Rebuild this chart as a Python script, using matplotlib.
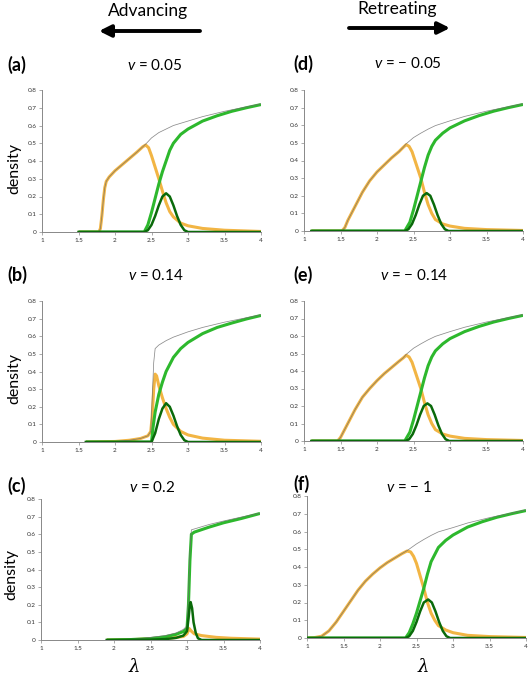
import matplotlib
matplotlib.use("Agg")
import matplotlib.pyplot as plt

plt.rcParams['font.family'] = ['Lato', 'DejaVu Sans']
plt.rcParams['mathtext.fontset'] = 'custom'
plt.rcParams['mathtext.it'] = 'Lato:italic'
plt.rcParams['mathtext.rm'] = 'Lato'

# ---------------- data ----------------
PANEL_LABELS = ['(a)', '(b)', '(c)', '(d)', '(e)', '(f)']
PANEL_V = ['0.05', '0.14', '0.2', '\u2212 0.05', '\u2212 0.14', '\u2212 1']
X_TICKS = [1, 1.5, 2, 2.5, 3, 3.5, 4]
X_TICK_LABELS = ['1', '1.5', '2', '2.5', '3', '3.5', '4']
Y_TICKS = [0, 0.1, 0.2, 0.3, 0.4, 0.5, 0.6, 0.7, 0.8]
Y_TICK_LABELS = ['0', '0.1', '0.2', '0.3', '0.4', '0.5', '0.6', '0.7', '0.8']

# (a) v = 0.05
A_OR_X = [1.5, 1.78, 1.80, 1.82, 1.84, 1.86, 1.88, 1.92, 2.0, 2.1, 2.2, 2.3, 2.38, 2.42, 2.46, 2.5, 2.55, 2.6, 2.65, 2.7, 2.75, 2.8, 2.9, 3.0, 3.2, 3.5, 4.0]
A_OR_Y = [0, 0, 0.02, 0.09, 0.18, 0.25, 0.285, 0.31, 0.345, 0.38, 0.415, 0.45, 0.48, 0.49, 0.475, 0.43, 0.365, 0.3, 0.23, 0.165, 0.115, 0.085, 0.05, 0.035, 0.02, 0.01, 0.003]
A_TOT_X = [1.5, 1.78, 1.80, 1.82, 1.84, 1.86, 1.88, 1.92, 2.0, 2.1, 2.2, 2.3, 2.38, 2.42, 2.5, 2.6, 2.7, 2.8, 3.0, 3.2, 3.5, 3.8, 4.0]
A_TOT_Y = [0, 0, 0.02, 0.09, 0.18, 0.25, 0.285, 0.31, 0.345, 0.38, 0.415, 0.45, 0.48, 0.495, 0.53, 0.56, 0.58, 0.6, 0.625, 0.65, 0.68, 0.705, 0.722]
A_GR_X = [1.5, 2.4, 2.45, 2.5, 2.55, 2.6, 2.65, 2.7, 2.75, 2.8, 2.9, 3.0, 3.2, 3.4, 3.6, 3.8, 4.0]
A_GR_Y = [0, 0, 0.04, 0.11, 0.19, 0.27, 0.34, 0.40, 0.46, 0.5, 0.55, 0.58, 0.625, 0.655, 0.68, 0.70, 0.718]
A_DG_X = [1.5, 2.4, 2.45, 2.5, 2.55, 2.6, 2.65, 2.7, 2.75, 2.8, 2.85, 2.9, 2.95, 3.0, 4.0]
A_DG_Y = [0, 0, 0.01, 0.04, 0.09, 0.15, 0.2, 0.218, 0.2, 0.15, 0.09, 0.04, 0.01, 0, 0]

# (b) v = 0.14
B_OR_X = [1.6, 2.0, 2.2, 2.35, 2.45, 2.49, 2.51, 2.53, 2.55, 2.57, 2.6, 2.65, 2.7, 2.75, 2.8, 2.9, 3.0, 3.2, 3.5, 4.0]
B_OR_Y = [0, 0.003, 0.01, 0.02, 0.035, 0.06, 0.15, 0.3, 0.385, 0.375, 0.32, 0.25, 0.19, 0.14, 0.1, 0.06, 0.04, 0.022, 0.01, 0.004]
B_TOT_X = [1.6, 2.0, 2.2, 2.35, 2.45, 2.49, 2.51, 2.53, 2.55, 2.6, 2.7, 2.8, 3.0, 3.2, 3.5, 3.8, 4.0]
B_TOT_Y = [0, 0.003, 0.01, 0.02, 0.035, 0.06, 0.25, 0.45, 0.53, 0.55, 0.575, 0.595, 0.625, 0.65, 0.68, 0.705, 0.722]
B_GR_X = [1.6, 2.5, 2.52, 2.55, 2.6, 2.65, 2.7, 2.8, 2.9, 3.0, 3.2, 3.4, 3.6, 3.8, 4.0]
B_GR_Y = [0, 0, 0.08, 0.17, 0.27, 0.34, 0.4, 0.48, 0.53, 0.565, 0.615, 0.65, 0.675, 0.698, 0.718]
B_DG_X = [1.6, 2.5, 2.55, 2.6, 2.65, 2.7, 2.75, 2.8, 2.85, 2.9, 2.95, 3.0, 4.0]
B_DG_Y = [0, 0, 0.05, 0.13, 0.19, 0.22, 0.2, 0.15, 0.09, 0.04, 0.01, 0, 0]

# (c) v = 0.2
C_OR_X = [1.9, 2.3, 2.5, 2.8, 2.95, 3.0, 3.03, 3.06, 3.1, 3.2, 3.4, 3.6, 4.0]
C_OR_Y = [0, 0.003, 0.008, 0.012, 0.02, 0.035, 0.065, 0.05, 0.035, 0.025, 0.015, 0.01, 0.005]
C_TOT_X = [1.9, 2.3, 2.5, 2.7, 2.85, 2.95, 3.0, 3.02, 3.04, 3.06, 3.1, 3.3, 3.5, 3.75, 4.0]
C_TOT_Y = [0, 0.005, 0.015, 0.025, 0.04, 0.06, 0.08, 0.25, 0.5, 0.625, 0.63, 0.655, 0.675, 0.698, 0.72]
C_GR_X = [1.9, 2.2, 2.5, 2.7, 2.85, 2.95, 3.0, 3.02, 3.04, 3.06, 3.1, 3.3, 3.5, 3.75, 4.0]
C_GR_Y = [0, 0.002, 0.008, 0.018, 0.032, 0.048, 0.065, 0.2, 0.45, 0.6, 0.612, 0.64, 0.665, 0.69, 0.718]
C_DG_X = [1.9, 2.5, 2.7, 2.85, 2.95, 3.0, 3.02, 3.04, 3.05, 3.07, 3.09, 3.12, 3.15, 3.2, 4.0]
C_DG_Y = [0, 0.002, 0.005, 0.012, 0.025, 0.05, 0.12, 0.2, 0.215, 0.18, 0.1, 0.04, 0.01, 0, 0]

# (d) v = -0.05
D_OR_X = [1.1, 1.52, 1.56, 1.6, 1.7, 1.8, 1.9, 2.0, 2.1, 2.2, 2.3, 2.36, 2.4, 2.44, 2.48, 2.52, 2.56, 2.6, 2.65, 2.7, 2.75, 2.8, 2.9, 3.0, 3.2, 3.5, 4.0]
D_OR_Y = [0, 0, 0.02, 0.06, 0.14, 0.22, 0.285, 0.335, 0.375, 0.415, 0.45, 0.475, 0.49, 0.48, 0.45, 0.4, 0.35, 0.3, 0.22, 0.15, 0.1, 0.065, 0.04, 0.028, 0.015, 0.008, 0.003]
D_TOT_X = [1.1, 1.52, 1.56, 1.6, 1.7, 1.8, 1.9, 2.0, 2.1, 2.2, 2.3, 2.36, 2.4, 2.5, 2.6, 2.7, 2.8, 3.0, 3.2, 3.5, 3.8, 4.0]
D_TOT_Y = [0, 0, 0.02, 0.06, 0.14, 0.22, 0.285, 0.335, 0.375, 0.415, 0.45, 0.475, 0.495, 0.53, 0.555, 0.578, 0.598, 0.625, 0.65, 0.68, 0.705, 0.722]
D_GR_X = [1.1, 2.38, 2.45, 2.5, 2.55, 2.6, 2.65, 2.7, 2.75, 2.8, 2.9, 3.0, 3.2, 3.4, 3.6, 3.8, 4.0]
D_GR_Y = [0, 0, 0.05, 0.12, 0.2, 0.28, 0.36, 0.43, 0.48, 0.515, 0.555, 0.585, 0.625, 0.655, 0.68, 0.7, 0.718]
D_DG_X = [1.1, 2.38, 2.43, 2.48, 2.53, 2.58, 2.63, 2.68, 2.73, 2.78, 2.83, 2.88, 2.93, 2.98, 4.0]
D_DG_Y = [0, 0, 0.01, 0.04, 0.09, 0.15, 0.2, 0.215, 0.2, 0.15, 0.09, 0.04, 0.01, 0, 0]

# (e) v = -0.14
E_OR_X = [1.1, 1.46, 1.5, 1.55, 1.6, 1.7, 1.8, 1.9, 2.0, 2.1, 2.2, 2.3, 2.36, 2.4, 2.44, 2.48, 2.52, 2.56, 2.6, 2.65, 2.7, 2.75, 2.8, 2.9, 3.0, 3.2, 3.5, 4.0]
E_OR_Y = [0, 0, 0.02, 0.06, 0.1, 0.18, 0.25, 0.3, 0.345, 0.385, 0.42, 0.455, 0.475, 0.49, 0.48, 0.45, 0.4, 0.35, 0.3, 0.22, 0.15, 0.1, 0.065, 0.04, 0.028, 0.015, 0.008, 0.003]
E_TOT_X = [1.1, 1.46, 1.5, 1.55, 1.6, 1.7, 1.8, 1.9, 2.0, 2.1, 2.2, 2.3, 2.36, 2.4, 2.5, 2.6, 2.7, 2.8, 3.0, 3.2, 3.5, 3.8, 4.0]
E_TOT_Y = [0, 0, 0.02, 0.06, 0.1, 0.18, 0.25, 0.3, 0.345, 0.385, 0.42, 0.455, 0.475, 0.495, 0.53, 0.555, 0.578, 0.598, 0.625, 0.65, 0.68, 0.705, 0.722]
E_GR_X = [1.1, 2.38, 2.45, 2.5, 2.55, 2.6, 2.65, 2.7, 2.75, 2.8, 2.9, 3.0, 3.2, 3.4, 3.6, 3.8, 4.0]
E_GR_Y = [0, 0, 0.05, 0.12, 0.2, 0.28, 0.36, 0.43, 0.48, 0.515, 0.555, 0.585, 0.625, 0.655, 0.68, 0.7, 0.718]
E_DG_X = [1.1, 2.39, 2.44, 2.49, 2.54, 2.59, 2.64, 2.69, 2.74, 2.79, 2.84, 2.89, 2.94, 2.99, 4.0]
E_DG_Y = [0, 0, 0.01, 0.04, 0.09, 0.15, 0.2, 0.215, 0.2, 0.15, 0.09, 0.04, 0.01, 0, 0]

# (f) v = -1
F_OR_X = [1.0, 1.1, 1.2, 1.3, 1.4, 1.5, 1.6, 1.7, 1.8, 1.9, 2.0, 2.1, 2.2, 2.3, 2.37, 2.42, 2.46, 2.5, 2.55, 2.6, 2.65, 2.7, 2.75, 2.8, 2.9, 3.0, 3.2, 3.5, 4.0]
F_OR_Y = [0, 0.002, 0.01, 0.04, 0.09, 0.15, 0.21, 0.27, 0.32, 0.36, 0.395, 0.425, 0.45, 0.475, 0.49, 0.485, 0.46, 0.42, 0.35, 0.28, 0.2, 0.14, 0.1, 0.07, 0.045, 0.03, 0.015, 0.008, 0.003]
F_TOT_X = [1.0, 1.1, 1.2, 1.3, 1.4, 1.5, 1.6, 1.7, 1.8, 1.9, 2.0, 2.1, 2.2, 2.3, 2.37, 2.5, 2.6, 2.7, 2.8, 3.0, 3.2, 3.5, 3.8, 4.0]
F_TOT_Y = [0, 0.002, 0.01, 0.04, 0.09, 0.15, 0.21, 0.27, 0.32, 0.36, 0.395, 0.425, 0.45, 0.475, 0.492, 0.53, 0.555, 0.578, 0.598, 0.622, 0.648, 0.678, 0.703, 0.722]
F_GR_X = [1.0, 2.35, 2.4, 2.45, 2.5, 2.55, 2.6, 2.65, 2.7, 2.8, 2.9, 3.0, 3.2, 3.4, 3.6, 3.8, 4.0]
F_GR_Y = [0, 0, 0.03, 0.08, 0.14, 0.21, 0.28, 0.36, 0.43, 0.51, 0.55, 0.58, 0.625, 0.655, 0.68, 0.7, 0.718]
F_DG_X = [1.0, 2.35, 2.4, 2.45, 2.5, 2.55, 2.6, 2.66, 2.71, 2.76, 2.81, 2.86, 2.91, 2.96, 4.0]
F_DG_Y = [0, 0, 0.01, 0.04, 0.09, 0.15, 0.2, 0.217, 0.2, 0.15, 0.09, 0.04, 0.01, 0, 0]

SERIES = [
    (A_OR_X, A_OR_Y, A_TOT_X, A_TOT_Y, A_GR_X, A_GR_Y, A_DG_X, A_DG_Y),
    (B_OR_X, B_OR_Y, B_TOT_X, B_TOT_Y, B_GR_X, B_GR_Y, B_DG_X, B_DG_Y),
    (C_OR_X, C_OR_Y, C_TOT_X, C_TOT_Y, C_GR_X, C_GR_Y, C_DG_X, C_DG_Y),
    (D_OR_X, D_OR_Y, D_TOT_X, D_TOT_Y, D_GR_X, D_GR_Y, D_DG_X, D_DG_Y),
    (E_OR_X, E_OR_Y, E_TOT_X, E_TOT_Y, E_GR_X, E_GR_Y, E_DG_X, E_DG_Y),
    (F_OR_X, F_OR_Y, F_TOT_X, F_TOT_Y, F_GR_X, F_GR_Y, F_DG_X, F_DG_Y),
]

# ---------------- layout ----------------
W, H = 530, 680
fig = plt.figure(figsize=(W / 100, H / 100), dpi=100)

# axes boxes in pixels: left, top(0.8), right(4), bottom(0)
BOXES = [
    (42, 90, 261, 232),
    (42, 301, 261, 442),
    (41, 499, 260, 640),
    (304, 90, 523, 231),
    (304, 301, 523, 441),
    (307, 496, 526, 638),
]
LABEL_POS = [(17, 65), (17, 275), (17, 486), (303, 64), (303, 275), (301, 484)]
TITLE_POS = [(155, 65), (156, 275), (152, 488), (408, 64), (414, 275), (409, 487)]

C_OR = '#F2B544'
C_GR = '#2DB82D'
C_DG = '#0A6A0A'
C_TOT = '#6E6E6E'

for i, (box, data) in enumerate(zip(BOXES, SERIES)):
    l, t, r, b = box
    ax = fig.add_axes([l / W, 1 - b / H, (r - l) / W, (b - t) / H])
    ox, oy, tx, ty, gx, gy, dx, dy = data
    ax.plot(ox, oy, color=C_OR, lw=2.2, solid_capstyle='butt', zorder=2)
    ax.plot(gx, gy, color=C_GR, lw=2.2, solid_capstyle='butt', zorder=3)
    ax.plot(tx, ty, color=C_TOT, lw=0.55, alpha=0.8, zorder=4)
    ax.plot(dx, dy, color=C_DG, lw=1.8, zorder=5)
    ax.set_xlim(1, 4)
    ax.set_ylim(0, 0.8)
    ax.set_xticks(X_TICKS)
    ax.set_xticklabels(X_TICK_LABELS)
    ax.set_yticks(Y_TICKS)
    ax.set_yticklabels(Y_TICK_LABELS)
    ax.tick_params(labelsize=4.6, length=2, width=0.5, color='#888888',
                   labelcolor='#333333', pad=2)
    for s in ('top', 'right'):
        ax.spines[s].set_visible(False)
    for s in ('left', 'bottom'):
        ax.spines[s].set_color('#888888')
        ax.spines[s].set_linewidth(0.7)
    ax.patch.set_alpha(0)

    lx, ly = LABEL_POS[i]
    fig.text(lx / W, 1 - ly / H, PANEL_LABELS[i], fontsize=13, fontweight='bold',
             ha='center', va='center')
    cx, cy = TITLE_POS[i]
    fig.text(cx / W, 1 - cy / H, r'$v$ = ' + PANEL_V[i], fontsize=11,
             ha='center', va='center')

# y labels
for (x, y) in [(14, 169), (14, 379), (11, 575)]:
    fig.text(x / W, 1 - y / H, 'density', fontsize=11.5, rotation=90,
             ha='center', va='center')

# x labels
for (x, y) in [(134, 667), (423, 667)]:
    fig.text(x / W, 1 - y / H, '\u03bb', fontsize=13, style='italic',
             family=['DejaVu Serif'], ha='center', va='center')

# header arrows
fig.text(148 / W, 1 - 11 / H, 'Advancing', fontsize=12.5, ha='center', va='center')
fig.text(397 / W, 1 - 9 / H, 'Retreating', fontsize=12.5, ha='center', va='center')
fig.patches.append(matplotlib.patches.FancyArrowPatch(
    (200 / W, 1 - 31 / H), (99 / W, 1 - 31 / H), transform=fig.transFigure,
    arrowstyle='-|>,head_length=7,head_width=3.5', lw=2.8, color='black',
    mutation_scale=1, shrinkA=0, shrinkB=0))
fig.patches.append(matplotlib.patches.FancyArrowPatch(
    (349 / W, 1 - 28 / H), (450 / W, 1 - 28 / H), transform=fig.transFigure,
    arrowstyle='-|>,head_length=7,head_width=3.5', lw=2.8, color='black',
    mutation_scale=1, shrinkA=0, shrinkB=0))

fig.savefig('out.png', dpi=100)
